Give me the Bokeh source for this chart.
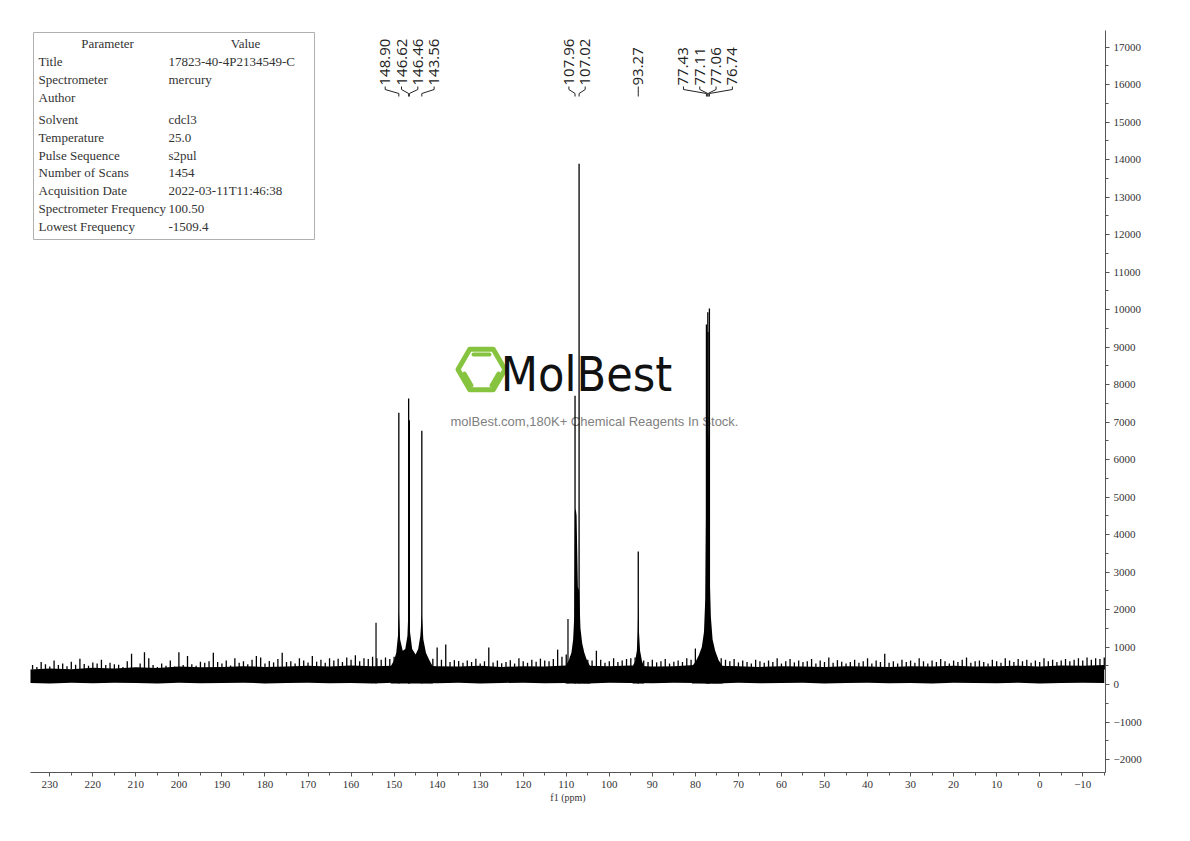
import numpy as np
from bokeh.plotting import figure
from bokeh.models import Range1d, SingleIntervalTicker
from bokeh.core.properties import value
from bokeh.embed import file_html
from bokeh.resources import INLINE

# ---------------- data ----------------
peak_ppm = [148.90, 146.62, 146.46, 143.56, 107.96, 107.02, 93.27, 77.43, 77.11, 77.06, 76.74]
peak_height = [7250, 7630, 7050, 6770, 7700, 13890, 3550, 9600, 9930, 9400, 10030]
peak_groups = [[0, 1, 2, 3], [4, 5], [6], [7, 8, 9, 10]]

minor_peak_ppm = [154.2, 109.6]
minor_peak_height = [1650, 1750]

# noise fringe tops, one per ppm from 234 down to -15
noise_top = [
    520, 470, 600, 540, 480, 640, 520, 560, 490, 610,
    530, 690, 550, 500, 590, 560, 660, 520, 580, 540,
    530, 470, 620, 820, 450, 560, 860, 700, 520, 470,
    560, 500, 640, 480, 860, 520, 760, 540, 500, 610,
    580, 620, 850, 600, 560, 640, 510, 700, 580, 620,
    540, 660, 760, 720, 560, 630, 590, 680, 850, 600,
    620, 560, 700, 640, 590, 760, 610, 660, 580, 700,
    640, 690, 600, 720, 660, 780, 620, 700, 680, 740,
    700, 660, 720, 680, 740, 700, 650, 700, 720, 680,
    760, 700, 640, 690, 990, 660, 1070, 600, 650, 630,
    580, 640, 600, 690, 560, 620, 990, 590, 640, 570,
    600, 650, 560, 700, 620, 580, 660, 610, 690, 640,
    620, 680, 930, 740, 800, 760, 720, 700, 680, 660,
    640, 900, 660, 580, 620, 700, 600, 640, 680, 700,
    720, 680, 640, 600, 660, 590, 620, 680, 560, 610,
    640, 600, 700, 660, 960, 760, 800, 800, 760, 720,
    700, 660, 620, 680, 590, 640, 600, 560, 660, 620,
    580, 640, 600, 700, 560, 620, 680, 590, 640, 600,
    620, 680, 560, 640, 600, 720, 580, 650, 610, 560,
    600, 660, 580, 620, 700, 560, 640, 600, 820, 580,
    620, 560, 660, 600, 640, 580, 700, 620, 560, 640,
    600, 680, 620, 560, 640, 600, 660, 720, 580, 620,
    640, 600, 560, 660, 620, 580, 700, 640, 600, 680,
    620, 660, 580, 640, 600, 700, 620, 660, 600, 640,
    680, 620, 660, 700, 640, 720, 660, 700, 680, 720,
]
noise_ppm = list(np.arange(234, -16, -1))

# solid noise band, one value per 5 ppm from 235 down to -15
noise_core = [
    400, 430, 410, 450, 430, 460, 440, 480, 460, 470,
    490, 470, 480, 500, 480, 510, 490, 500, 520, 490,
    480, 500, 470, 490, 480, 510, 500, 490, 510, 480,
    490, 520, 500, 490, 470, 490, 480, 470, 490, 480,
    470, 490, 480, 500, 480, 490, 500, 480, 510, 500,
    520,
]
noise_floor = [
    40, 30, 45, 35, 50, 40, 30, 45, 35, 40,
    50, 30, 40, 45, 35, 40, 30, 50, 40, 35,
    45, 30, 40, 50, 35, 40, 30, 45, 40, 35,
    50, 40, 30, 45, 35, 40, 50, 30, 40, 45,
    35, 40, 30, 50, 40, 35, 45, 30, 40, 50,
    40,
]
core_ppm = list(np.arange(235, -16, -5))

# broad bases of the peak clusters
skirt1_ppm = [150.8, 150.0, 149.5, 149.1, 148.9, 148.6, 148.0, 147.4, 146.9, 146.6,
              146.3, 145.8, 145.0, 144.4, 143.9, 143.56, 143.2, 142.6, 141.8, 141.0]
skirt1_int = [480, 650, 850, 1300, 2000, 1200, 900, 950, 1300, 2200,
              1400, 950, 800, 950, 1300, 1900, 1200, 850, 650, 480]
skirt2_ppm = [110.2, 109.4, 108.8, 108.4, 108.15, 108.0, 107.8, 107.6, 107.3, 107.0,
              106.7, 106.3, 105.8, 105.2, 104.4]
skirt2_int = [480, 650, 850, 1200, 1800, 4600, 4700, 4500, 2600, 2500,
              1500, 1100, 850, 650, 480]
skirt3_ppm = [94.6, 94.0, 93.6, 93.4, 93.27, 93.1, 92.85, 92.4, 91.9]
skirt3_int = [480, 620, 900, 1400, 2200, 1400, 900, 620, 480]
skirt4_ppm = [80.8, 80.0, 79.2, 78.5, 78.0, 77.7, 77.45, 77.2, 76.9, 76.7, 76.4, 76.0,
              75.4, 74.6, 73.6]
skirt4_int = [480, 600, 780, 1000, 1400, 2300, 5500, 7000, 6500, 3000, 1800, 1200,
              900, 650, 480]

param_names = ["Title", "Spectrometer", "Author", "Solvent", "Temperature", "Pulse Sequence",
               "Number of Scans", "Acquisition Date", "Spectrometer Frequency", "Lowest Frequency"]
param_values = ["17823-40-4P2134549-C", "mercury", "", "cdcl3", "25.0", "s2pul",
                "1454", "2022-03-11T11:46:38", "100.50", "-1509.4"]

# ---------------- layout ----------------
X_START, X_END = 234.48, -15.29
Y_START, Y_END = -2347, 17445
FR_L, FR_T, FR_W, FR_H = 30, 30, 1075, 742   # frame in page pixels
B_L, B_T, B_R, B_B = 30, 30, 65, 45


def dx(px):
    return X_START + (px - FR_L) / FR_W * (X_END - X_START)


def dy(py):
    return Y_END - (py - FR_T) / FR_H * (Y_END - Y_START)


p = figure(width=B_L + FR_W + B_R, height=B_T + FR_H + B_B,
           x_range=Range1d(X_START, X_END), y_range=Range1d(Y_START, Y_END),
           y_axis_location="right", output_backend="svg", toolbar_location=None)
p.min_border_left = B_L
p.min_border_top = B_T
p.min_border_right = B_R
p.min_border_bottom = B_B
p.outline_line_color = None
p.xgrid.visible = False
p.ygrid.visible = False
p.background_fill_color = "white"

p.xaxis.ticker = SingleIntervalTicker(interval=10, num_minor_ticks=2)
p.yaxis.ticker = SingleIntervalTicker(interval=1000, num_minor_ticks=2)
for ax in (p.xaxis, p.yaxis):
    ax.axis_line_color = "#555555"
    ax.major_tick_line_color = "#555555"
    ax.minor_tick_line_color = "#555555"
    ax.major_tick_out = 4
    ax.major_tick_in = 0
    ax.minor_tick_out = 3
    ax.minor_tick_in = 0
    ax.major_label_text_font = "Liberation Serif"
    ax.major_label_text_font_size = "11px"
    ax.major_label_text_color = "#333333"
    ax.major_label_standoff = 4
p.xaxis.axis_label = "f1 (ppm)"
p.xaxis.axis_label_text_font = "Liberation Serif"
p.xaxis.axis_label_text_font_size = "10px"
p.xaxis.axis_label_text_font_style = "normal"
p.xaxis.axis_label_text_color = "#333333"
p.xaxis.axis_label_standoff = 1

# ---------------- watermark ----------------
green = "#86c440"
p.scatter(x=[dx(481)], y=[dy(369)], marker="hex", size=47, fill_color=None,
          line_color=green, line_width=5, line_join="round")
p.segment(x0=[dx(473), dx(464), dx(498)], y0=[dy(354), dy(373), dy(373)],
          x1=[dx(489), dx(471), dx(491)], y1=[dy(354), dy(385), dy(385)],
          line_color=green, line_width=4, line_cap="round")
p.text(x=[dx(586)], y=[dy(373)], text=["MolBest"],
       text_font=value("DejaVu Sans Condensed, Roboto"),
       text_font_size="48px", text_color="#111111", text_align="center", text_baseline="middle")
p.text(x=[dx(594)], y=[dy(421)], text=["molBest.com,180K+ Chemical Reagents In Stock."],
       text_font=value("Liberation Sans"), text_font_size="13px", text_color="#808080",
       text_align="center", text_baseline="middle")

# ---------------- spectrum ----------------
p.varea(x=core_ppm, y1=noise_floor, y2=noise_core, fill_color="black")
p.segment(x0=noise_ppm, y0=[min(noise_core)] * len(noise_ppm),
          x1=noise_ppm, y1=noise_top, line_color="black", line_width=1.3)
for sp, si in ((skirt1_ppm, skirt1_int), (skirt2_ppm, skirt2_int),
               (skirt3_ppm, skirt3_int), (skirt4_ppm, skirt4_int)):
    p.varea(x=sp, y1=[min(noise_floor)] * len(sp), y2=si, fill_color="black")
p.segment(x0=minor_peak_ppm, y0=[min(noise_floor)] * len(minor_peak_ppm),
          x1=minor_peak_ppm, y1=minor_peak_height, line_color="black", line_width=1.2)
p.segment(x0=peak_ppm, y0=[min(noise_floor)] * len(peak_ppm),
          x1=peak_ppm, y1=peak_height, line_color="black", line_width=1.3)

# ---------------- peak labels ----------------
LABEL_GAP = 3.79  # ppm between neighbouring labels
lab_x, lab_t, con_xs, con_ys = [], [], [], []
for grp in peak_groups:
    c = float(np.mean([peak_ppm[i] for i in grp]))
    n = len(grp)
    for k, i in enumerate(grp):
        lx = c + ((n - 1) / 2 - k) * LABEL_GAP
        lab_x.append(lx)
        lab_t.append(f"{peak_ppm[i]:.2f}")
        con_xs.append([lx, lx, peak_ppm[i], peak_ppm[i]])
        con_ys.append([dy(86), dy(89), dy(93), dy(96)])
p.text(x=lab_x, y=[dy(85)] * len(lab_x), text=lab_t, angle=np.pi / 2,
       text_font=value("Open Sans"), text_font_size="15px", text_color="#222222",
       text_align="left", text_baseline="middle")
p.multi_line(xs=con_xs, ys=con_ys, line_color="#222222", line_width=1)

# ---------------- parameter table ----------------
p.quad(left=[dx(33)], right=[dx(314)], top=[dy(32)], bottom=[dy(239)],
       fill_color="white", line_color="#b0b0b0", line_width=1)
row_y = [61, 79, 97, 119, 137, 155, 172, 190, 208, 226]
tfont = value("Liberation Serif")
p.text(x=[dx(107), dx(245)], y=[dy(43)] * 2, text=["Parameter", "Value"], text_font=tfont,
       text_font_size="13px", text_color="#333333", text_align="center", text_baseline="middle")
p.text(x=[dx(38)] * len(param_names), y=[dy(v) for v in row_y], text=param_names,
       text_font=tfont, text_font_size="13px", text_color="#333333",
       text_align="left", text_baseline="middle")
p.text(x=[dx(168)] * len(param_values), y=[dy(v) for v in row_y], text=param_values,
       text_font=tfont, text_font_size="13px", text_color="#333333",
       text_align="left", text_baseline="middle")

open("out.html", "w").write(file_html(p, INLINE))
